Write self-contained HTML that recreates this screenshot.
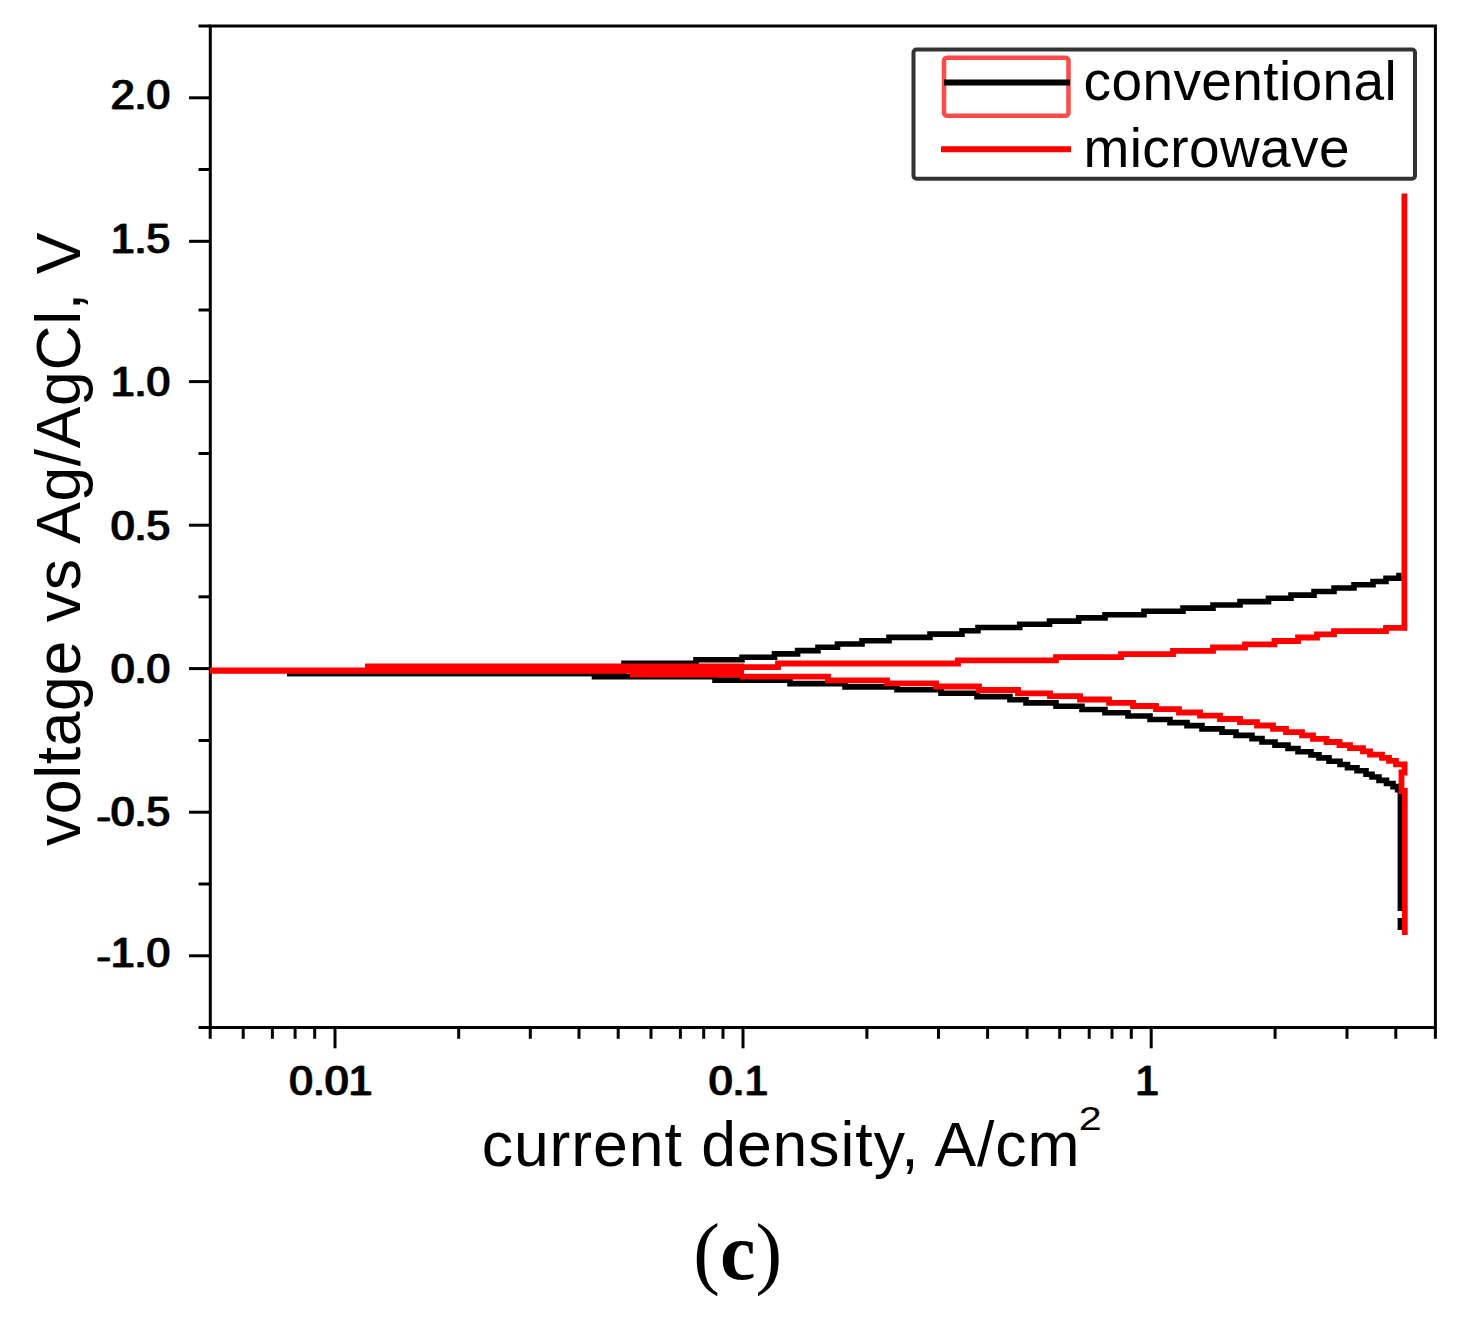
<!DOCTYPE html><html><head><meta charset="utf-8"><style>html,body{margin:0;padding:0;background:#fff;}body{width:1458px;height:1320px;overflow:hidden;position:relative;}svg{position:absolute;left:0;top:0;}</style></head><body>
<svg width="1458" height="1320" viewBox="0 0 1458 1320">
<rect x="0" y="0" width="1458" height="1320" fill="#fff"/>
<g stroke="#000" stroke-width="3" fill="none" stroke-linecap="butt">
<rect x="210.3" y="26.0" width="1225.1000000000001" height="1001.5"/>
<line x1="189" y1="97.8" x2="210.3" y2="97.8"/>
<line x1="189" y1="241.3" x2="210.3" y2="241.3"/>
<line x1="189" y1="381.6" x2="210.3" y2="381.6"/>
<line x1="189" y1="525.2" x2="210.3" y2="525.2"/>
<line x1="189" y1="668.6" x2="210.3" y2="668.6"/>
<line x1="189" y1="812.2" x2="210.3" y2="812.2"/>
<line x1="189" y1="955.8" x2="210.3" y2="955.8"/>
<line x1="198.5" y1="169.5" x2="210.3" y2="169.5"/>
<line x1="198.5" y1="310.0" x2="210.3" y2="310.0"/>
<line x1="198.5" y1="453.5" x2="210.3" y2="453.5"/>
<line x1="198.5" y1="596.8" x2="210.3" y2="596.8"/>
<line x1="198.5" y1="740.5" x2="210.3" y2="740.5"/>
<line x1="198.5" y1="884.0" x2="210.3" y2="884.0"/>
<line x1="198.5" y1="26.0" x2="210.3" y2="26.0"/>
<line x1="198.5" y1="1027.5" x2="210.3" y2="1027.5"/>
<line x1="210.2" y1="1027.5" x2="210.2" y2="1038.8"/>
<line x1="243.2" y1="1027.5" x2="243.2" y2="1038.8"/>
<line x1="272.4" y1="1027.5" x2="272.4" y2="1038.8"/>
<line x1="295.1" y1="1027.5" x2="295.1" y2="1038.8"/>
<line x1="314.7" y1="1027.5" x2="314.7" y2="1038.8"/>
<line x1="335.0" y1="1027.5" x2="335.0" y2="1048.3"/>
<line x1="458.7" y1="1027.5" x2="458.7" y2="1038.8"/>
<line x1="530.3" y1="1027.5" x2="530.3" y2="1038.8"/>
<line x1="579.0" y1="1027.5" x2="579.0" y2="1038.8"/>
<line x1="618.2" y1="1027.5" x2="618.2" y2="1038.8"/>
<line x1="651.0" y1="1027.5" x2="651.0" y2="1038.8"/>
<line x1="680.4" y1="1027.5" x2="680.4" y2="1038.8"/>
<line x1="703.7" y1="1027.5" x2="703.7" y2="1038.8"/>
<line x1="723.0" y1="1027.5" x2="723.0" y2="1038.8"/>
<line x1="743.0" y1="1027.5" x2="743.0" y2="1048.3"/>
<line x1="866.9" y1="1027.5" x2="866.9" y2="1038.8"/>
<line x1="938.5" y1="1027.5" x2="938.5" y2="1038.8"/>
<line x1="987.6" y1="1027.5" x2="987.6" y2="1038.8"/>
<line x1="1027.1" y1="1027.5" x2="1027.1" y2="1038.8"/>
<line x1="1059.7" y1="1027.5" x2="1059.7" y2="1038.8"/>
<line x1="1089.2" y1="1027.5" x2="1089.2" y2="1038.8"/>
<line x1="1112.0" y1="1027.5" x2="1112.0" y2="1038.8"/>
<line x1="1131.3" y1="1027.5" x2="1131.3" y2="1038.8"/>
<line x1="1151.2" y1="1027.5" x2="1151.2" y2="1048.3"/>
<line x1="1275.1" y1="1027.5" x2="1275.1" y2="1038.8"/>
<line x1="1347.0" y1="1027.5" x2="1347.0" y2="1038.8"/>
<line x1="1395.8" y1="1027.5" x2="1395.8" y2="1038.8"/>
<line x1="1435.4" y1="1027.5" x2="1435.4" y2="1038.8"/>
</g>
<g font-family="Liberation Sans, sans-serif" font-size="42.5" fill="#000" stroke="#000" stroke-width="0.4" letter-spacing="0.1">
<text x="169.5" y="109.1" text-anchor="end">2.0</text>
<text x="171.1" y="109.1" text-anchor="end">2.0</text>
<text x="169.5" y="252.9" text-anchor="end">1.5</text>
<text x="171.1" y="252.9" text-anchor="end">1.5</text>
<text x="169.5" y="396.2" text-anchor="end">1.0</text>
<text x="171.1" y="396.2" text-anchor="end">1.0</text>
<text x="169.5" y="540.2" text-anchor="end">0.5</text>
<text x="171.1" y="540.2" text-anchor="end">0.5</text>
<text x="169.5" y="683.3" text-anchor="end">0.0</text>
<text x="171.1" y="683.3" text-anchor="end">0.0</text>
<text x="169.5" y="826.4" text-anchor="end"><tspan dy="4.4">-</tspan><tspan dy="-4.4">0.5</tspan></text>
<text x="171.1" y="826.4" text-anchor="end"><tspan dy="4.4">-</tspan><tspan dy="-4.4">0.5</tspan></text>
<text x="169.5" y="967.0" text-anchor="end"><tspan dy="4.4">-</tspan><tspan dy="-4.4">1.0</tspan></text>
<text x="171.1" y="967.0" text-anchor="end"><tspan dy="4.4">-</tspan><tspan dy="-4.4">1.0</tspan></text>
<text x="330.0" y="1094.6" text-anchor="middle">0.01</text>
<text x="331.6" y="1094.6" text-anchor="middle">0.01</text>
<text x="737.8" y="1094.6" text-anchor="middle">0.1</text>
<text x="739.4" y="1094.6" text-anchor="middle">0.1</text>
<text x="1146.3" y="1094.6" text-anchor="middle">1</text>
<text x="1147.9" y="1094.6" text-anchor="middle">1</text>
</g>
<text transform="translate(80.3 846) rotate(-90)" x="0" y="0" font-family="Liberation Sans, sans-serif" font-size="62.5" letter-spacing="0.62" fill="#000">voltage vs Ag/AgCl, V</text>
<text x="481.7" y="1165.7" font-family="Liberation Sans, sans-serif" font-size="62.5" letter-spacing="0.95" fill="#000">current density, A/cm</text>
<text transform="translate(1078.8 1130.2) scale(1.25 1)" x="0" y="0" font-family="Liberation Sans, sans-serif" font-size="33" fill="#000">2</text>
<text x="737.7" y="1279" font-family="Liberation Serif, serif" font-size="80" text-anchor="middle" fill="#000">(<tspan font-weight="bold">c</tspan>)</text>
<rect x="913.5" y="49.5" width="501.5" height="129.3" rx="3" fill="#fff" stroke="#333" stroke-width="4"/>
<rect x="944" y="57.7" width="124.5" height="58" rx="3" fill="none" stroke="#ff4a4a" stroke-width="4.5"/>
<line x1="944" y1="82.4" x2="1070" y2="82.4" stroke="#000" stroke-width="6"/>
<line x1="941" y1="149.3" x2="1071" y2="149.3" stroke="#f00" stroke-width="6"/>
<text x="1083.5" y="99.8" font-family="Liberation Sans, sans-serif" font-size="55" letter-spacing="0.4" fill="#000">conventional</text>
<text x="1083.5" y="166.5" font-family="Liberation Sans, sans-serif" font-size="55" letter-spacing="0.4" fill="#000">microwave</text>
<polyline points="287.0,673.5 594.5,673.5 594.5,676.8 715.0,676.8 715.0,680.1 790.0,680.1 790.0,683.6 845.0,683.6 845.0,686.9 897.0,686.9 897.0,689.8 941.0,689.8 941.0,693.3 977.0,693.3 977.0,696.6 1010.0,696.6 1010.0,699.7 1026.0,699.7 1026.0,702.9 1056.0,702.9 1056.0,706.2 1082.0,706.2 1082.0,709.5 1105.0,709.5 1105.0,712.8 1128.0,712.8 1128.0,716.0 1150.0,716.0 1150.0,719.5 1170.0,719.5 1170.0,722.6 1187.0,722.6 1187.0,725.6 1202.0,725.6 1202.0,728.9 1222.0,728.9 1222.0,732.1 1236.0,732.1 1236.0,735.4 1252.0,735.4 1252.0,738.6 1262.0,738.6 1262.0,742.0 1275.0,742.0 1275.0,745.1 1288.0,745.1 1288.0,748.5 1298.0,748.5 1298.0,751.8 1311.0,751.8 1311.0,754.9 1319.0,754.9 1319.0,757.9 1329.0,757.9 1329.0,761.2 1340.0,761.2 1340.0,764.5 1347.5,764.5 1347.5,767.7 1357.0,767.7 1357.0,770.8 1366.0,770.8 1366.0,774.2 1372.0,774.2 1372.0,777.0 1379.0,777.0 1379.0,780.4 1386.5,780.4 1386.5,783.5 1393.0,783.5 1393.0,786.6 1397.6,786.6 1397.6,789.7 1400.4,789.7 1400.4,789.7 1400.4,911.0" fill="none" stroke="#000" stroke-width="5.6" stroke-linejoin="miter" stroke-linecap="butt"/>
<polyline points="1400.4,918.0 1400.4,930.0" fill="none" stroke="#000" stroke-width="5.6" stroke-linejoin="miter" stroke-linecap="butt"/>
<polyline points="287.0,673.5 624.0,673.5 624.0,663.2 696.0,663.2 696.0,659.8 742.0,659.8 742.0,657.2 774.5,657.2 774.5,653.9 797.6,653.9 797.6,650.6 818.0,650.6 818.0,647.3 837.5,647.3 837.5,644.0 862.0,644.0 862.0,640.7 889.0,640.7 889.0,637.4 930.0,637.4 930.0,634.1 962.0,634.1 962.0,630.8 978.0,630.8 978.0,627.5 1019.7,627.5 1019.7,624.3 1049.5,624.3 1049.5,621.1 1078.7,621.1 1078.7,617.9 1105.0,617.9 1105.0,614.7 1144.0,614.7 1144.0,611.3 1183.0,611.3 1183.0,608.1 1213.0,608.1 1213.0,605.0 1240.0,605.0 1240.0,601.6 1268.5,601.6 1268.5,598.3 1291.0,598.3 1291.0,595.1 1314.0,595.1 1314.0,591.5 1334.0,591.5 1334.0,588.0 1354.0,588.0 1354.0,584.7 1373.0,584.7 1373.0,581.5 1386.0,581.5 1386.0,578.2 1399.0,578.2 1399.0,575.5 1401.5,575.5" fill="none" stroke="#000" stroke-width="5.6" stroke-linejoin="miter" stroke-linecap="butt"/>
<polygon points="210,667.6 365,667.6 365,663.4 744,663.4 744,677.6 630,677.6 630,673.8 210,673.8" fill="#f00"/>
<polyline points="740.0,676.7 828.0,676.7 828.0,680.3 887.0,680.3 887.0,683.4 936.0,683.4 936.0,686.5 979.0,686.5 979.0,690.0 1018.0,690.0 1018.0,693.3 1050.0,693.3 1050.0,696.2 1080.0,696.2 1080.0,699.5 1109.0,699.5 1109.0,702.8 1133.0,702.8 1133.0,706.0 1156.0,706.0 1156.0,709.2 1179.0,709.2 1179.0,712.5 1200.0,712.5 1200.0,715.6 1220.0,715.6 1220.0,719.0 1240.0,719.0 1240.0,722.2 1257.0,722.2 1257.0,725.5 1273.0,725.5 1273.0,728.8 1286.0,728.8 1286.0,732.1 1302.0,732.1 1302.0,735.4 1313.0,735.4 1313.0,738.9 1326.5,738.9 1326.5,742.0 1339.5,742.0 1339.5,745.1 1350.0,745.1 1350.0,748.2 1363.0,748.2 1363.0,751.4 1370.0,751.4 1370.0,754.6 1382.0,754.6 1382.0,757.8 1389.0,757.8 1389.0,760.9 1396.0,760.9 1396.0,764.3 1404.6,764.3 1404.6,772.5 1401.5,772.5 1401.5,791.0 1404.8,791.0 1404.8,935.0" fill="none" stroke="#f00" stroke-width="5.8" stroke-linejoin="miter" stroke-linecap="butt"/>
<polyline points="740.0,667.2 778.0,667.2 778.0,663.5 958.0,663.5 958.0,660.4 1056.0,660.4 1056.0,657.2 1121.0,657.2 1121.0,654.1 1173.0,654.1 1173.0,650.8 1213.0,650.8 1213.0,647.5 1245.0,647.5 1245.0,644.3 1274.5,644.3 1274.5,641.0 1298.0,641.0 1298.0,637.5 1317.0,637.5 1317.0,634.3 1334.0,634.3 1334.0,631.2 1386.0,631.2 1386.0,627.8 1404.4,627.8 1404.4,193.6" fill="none" stroke="#f00" stroke-width="5.8" stroke-linejoin="miter" stroke-linecap="butt"/>
</svg></body></html>
